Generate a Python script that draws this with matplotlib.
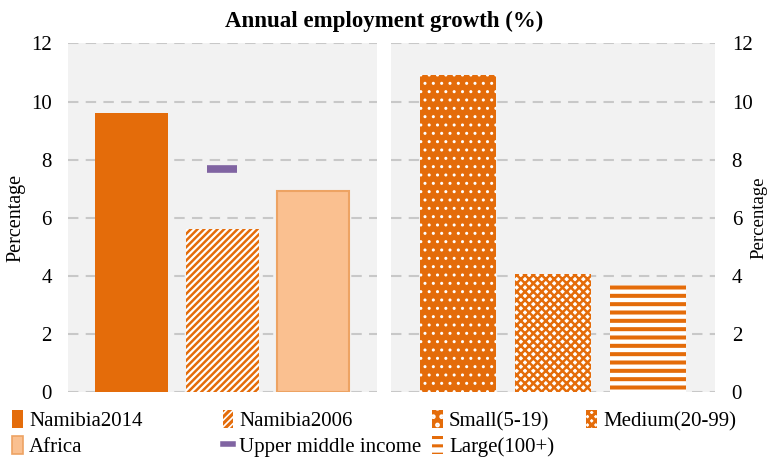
import numpy as np
import matplotlib
matplotlib.use("Agg")
from matplotlib import pyplot as plt
from matplotlib.patches import Patch
from matplotlib.lines import Line2D

plt.rcParams['font.family'] = ['Liberation Serif', 'DejaVu Serif']
plt.rcParams['hatch.linewidth'] = 2.2

# datos
left_cats = ["Namibia2014", "Namibia2006", "Africa"]
left_vals = [9.62, 5.6, 6.92]
umi_label = "Upper middle income"
umi_val = 7.68
right_cats = ["Small(5-19)", "Medium(20-99)", "Large(100+)"]
right_vals = [10.93, 4.08, 3.67]
yticks = [0, 2, 4, 6, 8, 10, 12]

orange = "#e46c0a"
purple = "#8064a2"
bg = "#f2f2f2"
grid = "#c8c8c8"

fig = plt.figure(figsize=(7.68, 4.57), dpi=100)
ax1 = fig.add_axes([0.0885, 0.142, 0.402, 0.763])
ax2 = fig.add_axes([0.509, 0.142, 0.422, 0.763])


def set_hlw(patch, lw):
    if hasattr(patch, "set_hatch_linewidth"):
        patch.set_hatch_linewidth(lw)


# panel izquierdo
x = np.arange(len(left_cats))
b = ax1.bar(x, left_vals, width=0.8, zorder=3)
b[0].set(facecolor=orange, edgecolor=orange, linewidth=0)
b[1].set(facecolor="white", edgecolor=orange, linewidth=0, hatch="/////")
set_hlw(b[1], 1.8)
b[2].set(facecolor="#fac090", edgecolor="#eda363", linewidth=1.5)
ax1.plot([1], [umi_val], marker="_", ms=21, mew=5.5, color=purple,
         linestyle="none", zorder=4)

# panel derecho
x2 = np.arange(len(right_cats))
b2 = ax2.bar(x2, right_vals, width=0.8, zorder=3)
b2[0].set(facecolor=orange, edgecolor="white", linewidth=0, hatch="..")
set_hlw(b2[0], 1.0)
b2[1].set(facecolor="white", edgecolor=orange, linewidth=0, hatch="xxxx")
set_hlw(b2[1], 1.8)
b2[2].set(facecolor="white", edgecolor=orange, linewidth=0, hatch="--")
set_hlw(b2[2], 2.9)

for ax in (ax1, ax2):
    ax.set_facecolor(bg)
    ax.set_xlim(-0.7, 2.7)
    ax.set_ylim(0, 12)
    ax.set_yticks(yticks)
    ax.set_xticks([])
    for s in ax.spines.values():
        s.set_visible(False)
    ax.yaxis.grid(True, color=grid, linestyle=(0, (5, 3.5)), linewidth=1.5, zorder=0)
    ax.tick_params(axis="y", length=0, labelsize=15)
    ax.set_axisbelow(True)

ax1.tick_params(axis="y", pad=11.5)
ax2.tick_params(axis="y", pad=12)
ax1.set_ylabel("Percentage", fontsize=14.5, labelpad=4)
ax2.yaxis.tick_right()
ax2.yaxis.set_label_position("right")
ax2.set_ylabel("Percentage", fontsize=13.5, labelpad=-1.5)

fig.text(0.5, 0.954, "Annual employment growth (%)", fontsize=16.5,
         fontweight="bold", ha="center", va="center")

h_left = [
    Patch(facecolor=orange, edgecolor=orange, linewidth=0, label=left_cats[0]),
    Patch(facecolor="#fac090", edgecolor="#eda363", linewidth=1.2, label=left_cats[2]),
    Patch(facecolor="white", edgecolor=orange, linewidth=0, hatch="/////", label=left_cats[1]),
    Line2D([], [], color=purple, linewidth=4, label=umi_label),
]
h_right = [
    Patch(facecolor=orange, edgecolor="white", linewidth=0, hatch="..", label=right_cats[0]),
    Patch(facecolor="white", edgecolor=orange, linewidth=0, hatch="--", label=right_cats[2]),
    Patch(facecolor="white", edgecolor=orange, linewidth=0, hatch="xxxx", label=right_cats[1]),
]

leg_kw = dict(ncol=2, frameon=False, fontsize=15, handlelength=0.5, handleheight=0.9,
              handletextpad=0.3, labelspacing=0.25, borderpad=0, borderaxespad=0)
fig.legend(handles=h_left, loc="upper left", bbox_to_anchor=(0.016, 0.102),
           columnspacing=3.85, **leg_kw)
fig.legend(handles=h_right, loc="upper left", bbox_to_anchor=(0.563, 0.102),
           columnspacing=1.55, **leg_kw)

fig.savefig("out.png", dpi=100)
